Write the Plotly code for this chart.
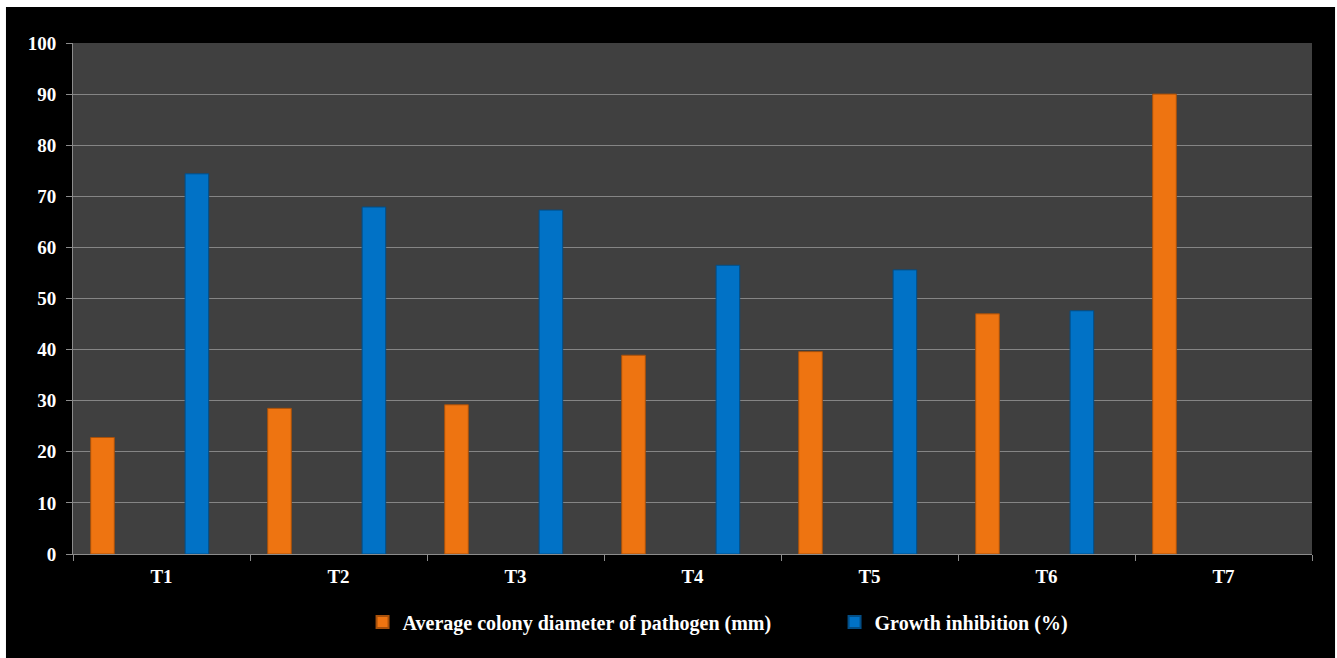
import plotly.graph_objects as go

categories = ["T1", "T2", "T3", "T4", "T5", "T6", "T7"]
colony_diameter = [22.8, 28.5, 29.2, 38.9, 39.6, 47.0, 90.0]
growth_inhibition = [74.4, 67.9, 67.3, 56.5, 55.6, 47.6, None]
empty_series = [None] * len(categories)
y_ticks = [0, 10, 20, 30, 40, 50, 60, 70, 80, 90, 100]

FONT = "Liberation Serif"
ORANGE = "#EE7411"
BLUE = "#0172C6"

fig = go.Figure()

# Series layout from the original workbook: six column series, only the 1st and 5th carry data
series = [
    ("Average colony diameter of pathogen (mm)", colony_diameter, ORANGE, "#A8500A", True),
    ("s2", empty_series, ORANGE, ORANGE, False),
    ("s3", empty_series, ORANGE, ORANGE, False),
    ("s4", empty_series, ORANGE, ORANGE, False),
    ("Growth inhibition (%)", growth_inhibition, BLUE, "#034E86", True),
    ("s6", empty_series, BLUE, BLUE, False),
]
for name, vals, col, edge, show in series:
    fig.add_trace(go.Bar(
        x=categories, y=vals, name=name, showlegend=show,
        marker=dict(color=col, line=dict(color=edge, width=1)),
        hoverinfo="x+y+name" if show else "skip",
    ))

fig.update_layout(
    width=1337, height=658,
    paper_bgcolor="black",
    plot_bgcolor="#404040",
    margin=dict(l=73, r=25, t=43, b=104),
    barmode="group", bargap=0.2, bargroupgap=0,
    font=dict(family=FONT, color="white", size=16),
    legend=dict(
        orientation="h", x=0.2337, xanchor="left", y=-0.095, yanchor="top",
        font=dict(family=FONT, size=20, color="white", weight="bold"),
        bgcolor="rgba(0,0,0,0)", itemwidth=30, tracegroupgap=0,
        entrywidth=427, entrywidthmode="pixels", itemsizing="constant",
    ),
    xaxis=dict(
        type="category", showgrid=False, showline=True, linecolor="#8C8C8C", linewidth=1,
        ticks="outside", tickson="boundaries", ticklen=6, tickcolor="#8C8C8C",
        tickfont=dict(family=FONT, size=19, color="white", weight="bold"),
        ticklabelstandoff=5,
    ),
    yaxis=dict(
        range=[0, 100], tickvals=y_ticks, showgrid=True, gridcolor="#858585", gridwidth=1,
        showline=True, linecolor="#8C8C8C", linewidth=1, zeroline=False,
        ticks="outside", ticklen=6, tickcolor="#8C8C8C",
        tickfont=dict(family=FONT, size=19, color="white", weight="bold"),
        ticklabelstandoff=6,
    ),
    shapes=[
        # white frame around the black chart area (from the original image)
        dict(type="rect", xref="paper", yref="paper", x0=-0.07, x1=1.03, y0=1.0705, y1=1.1,
             fillcolor="white", line=dict(width=0), layer="above"),
        dict(type="rect", xref="paper", yref="paper", x0=-0.07, x1=-0.0541, y0=-0.25, y1=1.1,
             fillcolor="white", line=dict(width=0), layer="above"),
        dict(type="rect", xref="paper", yref="paper", x0=1.0186, x1=1.03, y0=-0.25, y1=1.1,
             fillcolor="white", line=dict(width=0), layer="above"),
    ],
)

fig.write_html("out.html")
